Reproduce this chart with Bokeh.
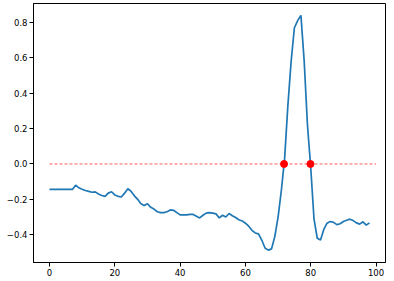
import numpy as np
from bokeh.plotting import figure
from bokeh.models import Range1d, FixedTicker
from bokeh.embed import file_html
from bokeh.resources import INLINE

x_vals = list(range(0, 99))
y_vals = [
    -0.144, -0.144, -0.144, -0.144, -0.144, -0.144, -0.144, -0.144, -0.120, -0.135,
    -0.143, -0.150, -0.155, -0.160, -0.158, -0.170, -0.178, -0.183, -0.165, -0.157,
    -0.175, -0.183, -0.187, -0.165, -0.140, -0.155, -0.180, -0.200, -0.225, -0.235,
    -0.225, -0.245, -0.255, -0.270, -0.275, -0.275, -0.270, -0.260, -0.262, -0.275,
    -0.288, -0.288, -0.288, -0.285, -0.285, -0.295, -0.305, -0.290, -0.278, -0.275,
    -0.278, -0.282, -0.305, -0.290, -0.300, -0.280, -0.293, -0.303, -0.315, -0.322,
    -0.335, -0.352, -0.375, -0.390, -0.395, -0.430, -0.475, -0.487, -0.480, -0.410,
    -0.300, -0.150, 0.030, 0.330, 0.580, 0.770, 0.810, 0.840, 0.580, 0.220,
    -0.020, -0.310, -0.420, -0.430, -0.370, -0.335, -0.325, -0.330, -0.343, -0.338,
    -0.325, -0.318, -0.312, -0.320, -0.333, -0.340, -0.327, -0.346, -0.333,
]
threshold = 0.0
hline_x = [0, 100]
x_ticks = [0, 20, 40, 60, 80, 100]
y_ticks = [-0.4, -0.2, 0.0, 0.2, 0.4, 0.6, 0.8]
y_tick_labels = ["\u22120.4", "\u22120.2", "0.0", "0.2", "0.4", "0.6", "0.8"]

# zero crossings by linear interpolation
cx = []
for i in range(len(y_vals) - 1):
    a, b = y_vals[i] - threshold, y_vals[i + 1] - threshold
    if a == 0 or a * b < 0:
        cx.append(x_vals[i] + a / (a - b) * (x_vals[i + 1] - x_vals[i]))
cy = [threshold] * len(cx)

p = figure(width=394, height=281, output_backend="svg", toolbar_location=None,
           x_range=Range1d(-4.9, 102.9), y_range=Range1d(-0.557, 0.907),
           min_border_left=33, min_border_right=9, min_border_top=3, min_border_bottom=19)
p.background_fill_color = "white"
p.border_fill_color = "white"
p.outline_line_color = "black"
p.outline_line_width = 1
p.xgrid.visible = False
p.ygrid.visible = False

p.line(x_vals, y_vals, line_color="#1f77b4", line_width=1.7)
p.line(hline_x, [threshold, threshold], line_color="red", line_alpha=0.65,
       line_width=1, line_dash="3 2")
p.scatter(cx, cy, size=7, color="red")

for ax in (p.xaxis, p.yaxis):
    ax.axis_line_color = "black"
    ax.major_tick_line_color = "black"
    ax.major_tick_out = 4
    ax.major_tick_in = 0
    ax.minor_tick_line_color = None
    ax.major_label_text_font = "DejaVu Sans"
    ax.major_label_text_font_size = "8.5px"
    ax.major_label_text_color = "black"
    ax.major_label_standoff = 2

p.xaxis.ticker = FixedTicker(ticks=x_ticks)
p.yaxis.ticker = FixedTicker(ticks=y_ticks)
p.yaxis.major_label_overrides = {t: l for t, l in zip(y_ticks, y_tick_labels)}

open("out.html", "w").write(file_html(p, INLINE))
